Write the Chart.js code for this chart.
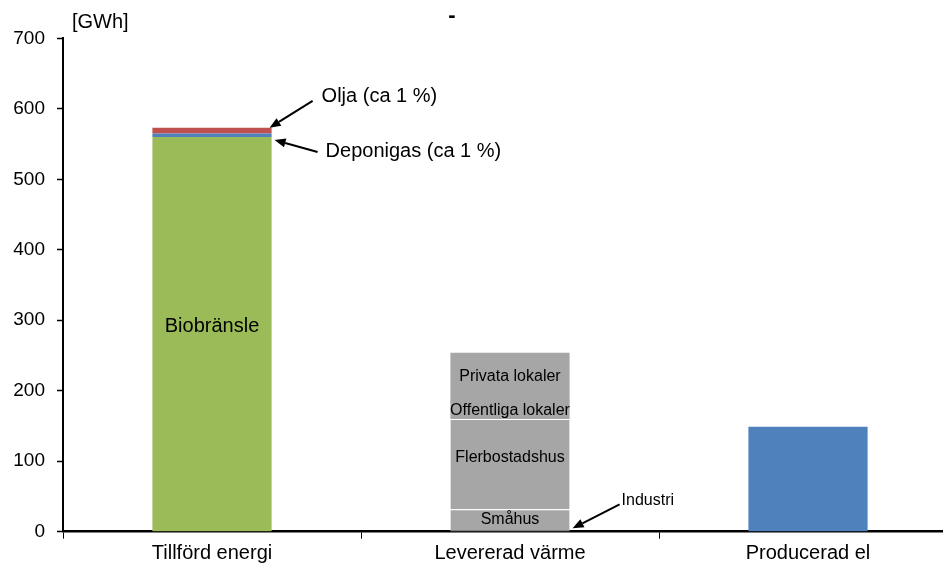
<!DOCTYPE html>
<html lang="sv">
<head>
<meta charset="utf-8">
<title>Energibalans</title>
<script src="https://cdn.jsdelivr.net/npm/chart.js@4.4.1/dist/chart.umd.min.js"></script>
<style>
  html, body { margin: 0; padding: 0; background: #fff; overflow: hidden; }
  #wrap { position: relative; width: 960px; height: 563px; }
</style>
</head>
<body>
<div id="wrap"><canvas id="energiChart"></canvas></div>
<script>
const categories = ['Tillförd energi', 'Levererad värme', 'Producerad el'];
const yTicks = [0, 100, 200, 300, 400, 500, 600, 700];

// Tillförd energi [GWh]
const biobransle = [560, null, null];
const deponigas = [5, null, null];
const olja = [8, null, null];

// Levererad värme [GWh]
const industri = [null, 2, null];
const smahus = [null, 30, null];
const flerbostadshus = [null, 128, null];
const offentligaLokaler = [null, 26, null];
const privataLokaler = [null, 69, null];

// Producerad el [GWh]
const produceradEl = [null, null, 149];

const FONT = '"Liberation Sans", Arial, sans-serif';
const GREY = '#a6a6a6';

// the two "lokaler" segments share one grey block without a seam:
// nudge the upper one down a fraction so the anti-aliased edges overlap
const noSeam = {
  id: 'noSeam',
  beforeDatasetDraw(chart, args) {
    if (chart.data.datasets[args.index].noSeam) {
      chart.ctx.save();
      chart.ctx.translate(0, 0.8);
    }
  },
  afterDatasetDraw(chart, args) {
    if (chart.data.datasets[args.index].noSeam) chart.ctx.restore();
  }
};

// text inside the bar segments, and arrows pointing at thin ones
const barText = {
  id: 'barText',
  afterDatasetsDraw(chart) {
    const ctx = chart.ctx;
    ctx.save();
    ctx.fillStyle = '#000';
    ctx.strokeStyle = '#000';
    ctx.textBaseline = 'middle';

    chart.data.datasets.forEach((ds, i) => {
      const meta = chart.getDatasetMeta(i);
      meta.data.forEach((bar, j) => {
        if (ds.data[j] == null) return;
        if (ds.inside) {
          ctx.font = ds.inside + 'px ' + FONT;
          ctx.textAlign = 'center';
          ctx.fillText(ds.label, bar.x, (bar.y + bar.base) / 2 + (ds.shift || 0));
        }
        if (ds.callout) {
          const c = ds.callout;
          const cx = bar.x + bar.width / 2;
          const cy = c.fromBase ? bar.base : bar.y;
          arrow(ctx, cx + c.tail[0], cy + c.tail[1], cx + c.tip[0], cy + c.tip[1]);
          ctx.font = c.size + 'px ' + FONT;
          ctx.textAlign = 'left';
          ctx.fillText(c.text, cx + c.at[0], cy + c.at[1]);
        }
      });
    });

    // unit label and the stray mark above the plot
    ctx.font = '20px ' + FONT;
    ctx.textAlign = 'left';
    ctx.fillText('[GWh]', chart.chartArea.left + 9, 22);
    ctx.font = 'bold 22px ' + FONT;
    ctx.textAlign = 'center';
    ctx.fillText('-', 452, 16);
    ctx.restore();
  }
};

function arrow(ctx, x1, y1, x2, y2) {
  const a = Math.atan2(y2 - y1, x2 - x1);
  const len = 11, half = 4.5;
  const bx = x2 - len * Math.cos(a), by = y2 - len * Math.sin(a);
  ctx.lineWidth = 2;
  ctx.beginPath();
  ctx.moveTo(x1, y1);
  ctx.lineTo(bx, by);
  ctx.stroke();
  ctx.beginPath();
  ctx.moveTo(x2, y2);
  ctx.lineTo(bx + half * Math.sin(a), by - half * Math.cos(a));
  ctx.lineTo(bx - half * Math.sin(a), by + half * Math.cos(a));
  ctx.closePath();
  ctx.fill();
}

const topLine = { top: 1, right: 0, bottom: 0, left: 0 };

new Chart(document.getElementById('energiChart'), {
  type: 'bar',
  data: {
    labels: categories,
    datasets: [
      { label: 'Biobränsle', data: biobransle, backgroundColor: '#9bbb59', inside: 20, shift: -8 },
      { label: 'Deponigas', data: deponigas, backgroundColor: '#4f81bd',
        callout: { text: 'Deponigas (ca 1 %)', size: 20, fromBase: true, tail: [46, 15], tip: [3, 3], at: [54, 15] } },
      { label: 'Olja', data: olja, backgroundColor: '#c0504d',
        callout: { text: 'Olja (ca 1 %)', size: 20, tail: [41, -27], tip: [-2, 0], at: [50, -31] } },
      { label: 'Industri', data: industri, backgroundColor: GREY,
        callout: { text: 'Industri', size: 16, tail: [50, -26], tip: [3, -2], at: [52, -30] } },
      { label: 'Småhus', data: smahus, backgroundColor: GREY, inside: 16,
        borderColor: '#fff', borderWidth: topLine, borderSkipped: 'bottom' },
      { label: 'Flerbostadshus', data: flerbostadshus, backgroundColor: GREY, inside: 16, shift: -6,
        borderColor: '#fff', borderWidth: topLine, borderSkipped: 'bottom' },
      { label: 'Offentliga lokaler', data: offentligaLokaler, backgroundColor: GREY, inside: 16, shift: 1 },
      { label: 'Privata lokaler', data: privataLokaler, backgroundColor: GREY, inside: 16, noSeam: true },
      { label: 'Producerad el', data: produceradEl, backgroundColor: '#4f81bd' }
    ]
  },
  options: {
    responsive: true,
    maintainAspectRatio: false,
    animation: false,
    barPercentage: 0.4,
    categoryPercentage: 1.0,
    layout: { padding: { top: 38.3, right: 3, left: 0, bottom: 0 } },
    plugins: {
      legend: { display: false },
      tooltip: { enabled: false }
    },
    scales: {
      x: {
        stacked: true,
        afterFit(scale) { scale.height = 31.3; },
        border: { color: '#000', width: 2.5 },
        grid: { offset: true, drawOnChartArea: false, tickLength: 7, tickColor: '#000', tickWidth: 1 },
        ticks: { color: '#000', padding: 3, font: { family: FONT, size: 20 } }
      },
      y: {
        stacked: true,
        min: 0,
        max: 700,
        afterFit(scale) { scale.width = 63; },
        afterBuildTicks(scale) { scale.ticks = yTicks.map(v => ({ value: v })); },
        border: { color: '#000', width: 2 },
        grid: { drawOnChartArea: false, tickLength: 6, tickColor: '#000', tickWidth: 1.5 },
        ticks: { color: '#000', padding: 12, font: { family: FONT, size: 19 } }
      }
    }
  },
  plugins: [noSeam, barText]
});
</script>
</body>
</html>
